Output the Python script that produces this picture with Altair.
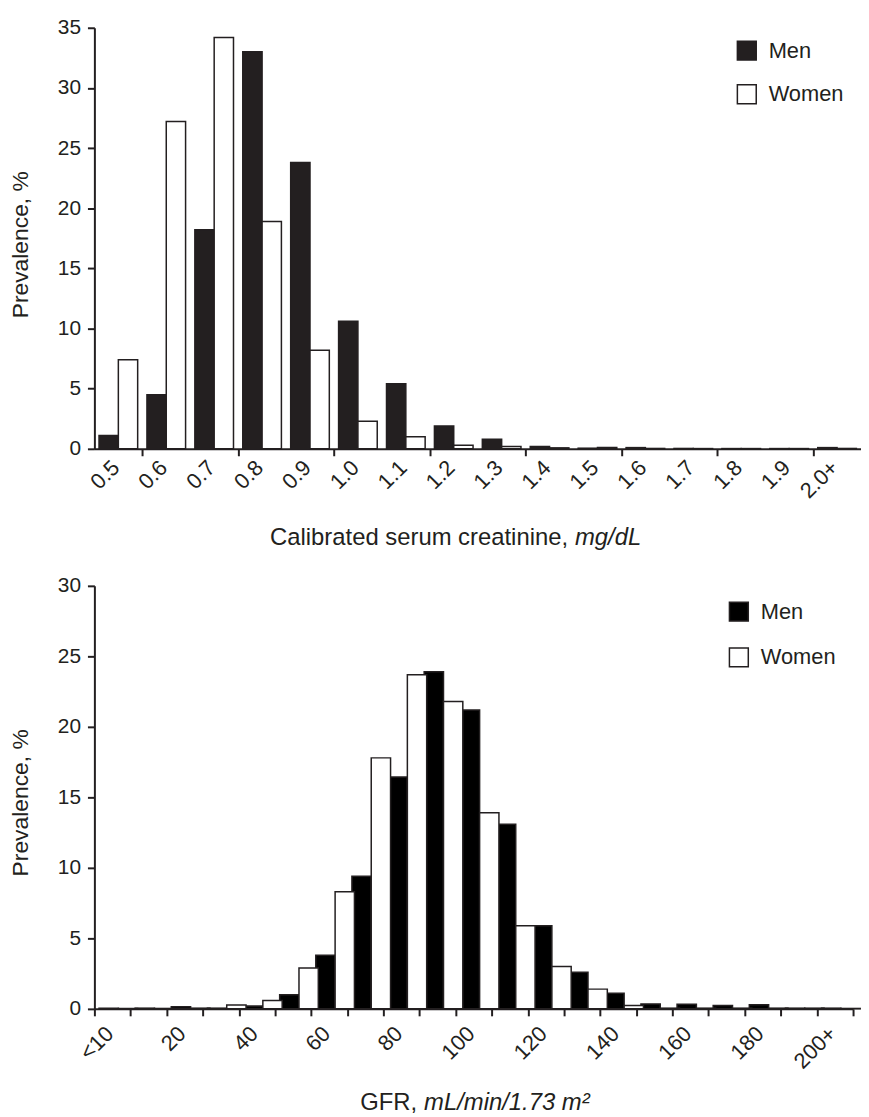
import json
import altair as alt
import pandas as pd

# ---------------- data ----------------
sexes = ["Men", "Women"]

creat_cats = ["0.5", "0.6", "0.7", "0.8", "0.9", "1.0", "1.1", "1.2",
              "1.3", "1.4", "1.5", "1.6", "1.7", "1.8", "1.9", "2.0+"]
creat_men = [1.1, 4.5, 18.2, 33.0, 23.8, 10.6, 5.4, 1.9,
             0.8, 0.2, 0.05, 0.1, 0.03, 0.02, 0.02, 0.1]
creat_women = [7.4, 27.2, 34.2, 18.9, 8.2, 2.3, 1.0, 0.3,
               0.2, 0.08, 0.1, 0.03, 0.02, 0.02, 0.02, 0.03]
creat_ticked = ["0.5", "0.7", "0.9", "1.1", "1.3", "1.5", "1.7", "1.9"]
creat_yticks = [0, 5, 10, 15, 20, 25, 30, 35]

gfr_cats = ["<10", "10", "20", "30", "40", "50", "60", "70", "80", "90", "100",
            "110", "120", "130", "140", "150", "160", "170", "180", "190", "200+"]
gfr_men = [0.05, 0.05, 0.15, 0.05, 0.2, 1.0, 3.8, 9.4, 16.45, 23.9, 21.2,
           13.1, 5.9, 2.6, 1.1, 0.35, 0.33, 0.24, 0.3, 0.05, 0.05]
gfr_women = [0.03, 0.03, 0.05, 0.28, 0.6, 2.9, 8.3, 17.8, 23.7, 21.8, 13.9,
             5.9, 3.0, 1.4, 0.24, 0.05, 0.05, 0.05, 0.05, 0.05, 0.03]
gfr_labelled = ["<10", "20", "40", "60", "80", "100", "120", "140", "160", "180", "200+"]
gfr_yticks = [0, 5, 10, 15, 20, 25, 30]

FONT = "Liberation Sans"
INK = "#231f20"


def long_table(cats, men, women):
    return pd.DataFrame({
        "cat": list(cats) * 2,
        "sex": ["Men"] * len(cats) + ["Women"] * len(cats),
        "value": list(men) + list(women),
    })


def panel(df, cats, yticks, width, height, men_color, off_pad, off_align,
          label_expr, tick_opacity, label_pad, legend_x, legend_y, row_pad,
          title_reg, title_it, title_split, title_gap, title_y):
    x_axis = alt.Axis(
        title=None, tickBand="extent", labelAngle=-45, labelAlign="right",
        labelBaseline="middle", labelFont=FONT, labelFontSize=22, labelColor=INK,
        labelPadding=label_pad, labelOffset=-3, labelOverlap=False, tickSize=7,
        tickWidth=2, tickColor=INK, tickOpacity=tick_opacity, domainColor=INK,
        domainWidth=2, labelExpr=label_expr,
    )
    y_axis = alt.Axis(
        values=yticks, grid=False, title="Prevalence, %", titleFont=FONT,
        titleFontSize=23, titleFontWeight="normal", titleColor=INK,
        titleX=-62, titleY=218, titleBaseline="bottom", titleAlign="center",
        labelFont=FONT, labelFontSize=21, labelColor=INK, labelPadding=7,
        tickSize=7, tickWidth=2, tickColor=INK, domainColor=INK, domainWidth=2,
    )
    legend = alt.Legend(
        title=None, orient="none", legendX=legend_x, legendY=legend_y,
        symbolType="square", symbolSize=361, symbolStrokeColor=INK,
        symbolStrokeWidth=1.5, symbolOpacity=1, labelFont=FONT,
        labelFontSize=22, labelColor=INK, labelOffset=11, rowPadding=row_pad,
        padding=0,
    )
    bars = alt.Chart(df).mark_bar(stroke=INK, strokeWidth=1.5).encode(
        x=alt.X("cat:N", sort=cats, axis=x_axis,
                scale=alt.Scale(paddingInner=0, paddingOuter=0)),
        xOffset=alt.XOffset("sex:N", sort=sexes,
                            scale=alt.Scale(paddingInner=0, paddingOuter=off_pad,
                                            align=off_align)),
        y=alt.Y("value:Q", axis=y_axis,
                scale=alt.Scale(domain=[0, yticks[-1]], nice=False, zero=True)),
        fill=alt.Fill("sex:N", legend=legend,
                      scale=alt.Scale(domain=sexes, range=[men_color, "#ffffff"])),
    )
    t_reg = alt.Chart(pd.DataFrame({"t": [title_reg]})).mark_text(
        font=FONT, fontSize=24, color=INK, align="right", baseline="middle"
    ).encode(text="t:N", x=alt.value(title_split), y=alt.value(title_y))
    t_it = alt.Chart(pd.DataFrame({"t": [title_it]})).mark_text(
        font=FONT, fontSize=24, color=INK, align="left", baseline="middle",
        fontStyle="italic"
    ).encode(text="t:N", x=alt.value(title_split + title_gap), y=alt.value(title_y))
    return alt.layer(bars, t_reg, t_it).properties(width=width, height=height)


top = panel(
    long_table(creat_cats, creat_men, creat_women), creat_cats, creat_yticks,
    width=772, height=424, men_color=INK, off_pad=0.24, off_align=0.5,
    label_expr="datum.label",
    tick_opacity={"condition": {"test": "indexof(%s, datum.value) >= 0" % json.dumps(creat_ticked),
                                "value": 1}, "value": 0},
    label_pad=8, legend_x=646, legend_y=12, row_pad=18,
    title_reg="Calibrated serum creatinine,", title_it="mg/dL",
    title_split=477, title_gap=7, title_y=514,
)

bottom = panel(
    long_table(gfr_cats, gfr_men, gfr_women), gfr_cats, gfr_yticks,
    width=764, height=426, men_color="#000000", off_pad=0.19, off_align=0,
    label_expr="indexof(%s, datum.value) >= 0 ? datum.label : ''" % json.dumps(gfr_labelled),
    tick_opacity=1,
    label_pad=14, legend_x=638, legend_y=15, row_pad=20,
    title_reg="GFR,", title_it="mL/min/1.73 m²",
    title_split=325, title_gap=7, title_y=521,
)

chart = alt.vconcat(top, bottom, spacing=138, bounds="flush").resolve_scale(
    fill="independent"
).resolve_legend(fill="independent").properties(
    padding={"left": 2, "top": 5, "right": 0, "bottom": 0},
    background="white",
).configure_view(stroke=None)

chart.save("out.html", embed_options={"renderer": "svg", "actions": False})
